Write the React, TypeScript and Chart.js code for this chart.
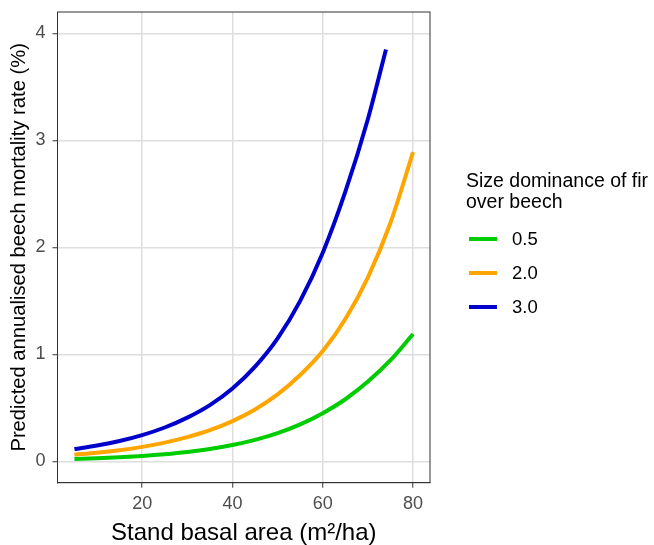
import React, { useEffect, useRef } from "react";
import { Chart, registerables } from "chart.js";

Chart.register(...registerables);

// ---- data ----
const basalArea = [5, 10, 15, 20, 25, 30, 35, 40, 45, 50, 55, 60, 65, 70, 75, 80];
const basalAreaHigh = [5, 10, 15, 20, 25, 30, 35, 40, 45, 50, 55, 60, 65, 70, 74];
const mortality05 = [0.022, 0.029, 0.038, 0.05, 0.066, 0.087, 0.115, 0.152, 0.2, 0.263, 0.345, 0.45, 0.58, 0.745, 0.945, 1.19];
const mortality20 = [0.062, 0.08, 0.104, 0.135, 0.175, 0.226, 0.291, 0.376, 0.485, 0.626, 0.807, 1.03, 1.33, 1.72, 2.23, 2.89];
const mortality30 = [0.115, 0.147, 0.19, 0.245, 0.316, 0.408, 0.525, 0.68, 0.885, 1.15, 1.5, 1.95, 2.52, 3.2, 3.85];
const seriesLabels = ["0.5", "2.0", "3.0"];
const seriesColors = ["#00CD00", "#FFA500", "#0000CD"];
const xTicks = [20, 40, 60, 80];
const yTicks = [0, 1, 2, 3, 4];
const legendTitle = ["Size dominance of fir", "over beech"];
const xTitle = "Stand basal area (m\u00B2/ha)";
const yTitle = "Predicted annualised beech mortality rate (%)";

const FONT = "'Liberation Sans', Arial, Helvetica, sans-serif";

const toPoints = (xs: number[], ys: number[]) => xs.map((x, i) => ({ x, y: ys[i] }));

const borderPlugin = {
  id: "panelBorder",
  afterDatasetsDraw(chart: any) {
    const { ctx, chartArea } = chart;
    ctx.save();
    ctx.strokeStyle = "#333333";
    ctx.lineWidth = 1;
    ctx.strokeRect(chartArea.left, chartArea.top, chartArea.right - chartArea.left, chartArea.bottom - chartArea.top);
    ctx.restore();
  },
};

const legendPlugin = {
  id: "customLegend",
  afterDraw(chart: any) {
    const { ctx } = chart;
    ctx.save();
    ctx.fillStyle = "#000000";
    ctx.textAlign = "left";
    ctx.textBaseline = "alphabetic";
    ctx.font = `19.5px ${FONT}`;
    ctx.fillText(legendTitle[0], 466, 187);
    ctx.fillText(legendTitle[1], 466, 208);
    const ys = [239, 273, 307];
    chart.data.datasets.forEach((ds: any, i: number) => {
      ctx.strokeStyle = ds.borderColor;
      ctx.lineWidth = 4;
      ctx.lineCap = "butt";
      ctx.beginPath();
      ctx.moveTo(469, ys[i]);
      ctx.lineTo(497, ys[i]);
      ctx.stroke();
      ctx.fillStyle = "#000000";
      ctx.textBaseline = "middle";
      ctx.font = `18.5px ${FONT}`;
      ctx.fillText(ds.label, 512, ys[i] + 1);
    });
    ctx.restore();
  },
};

export default function App() {
  const canvasRef = useRef<HTMLCanvasElement | null>(null);

  useEffect(() => {
    if (!canvasRef.current) return;
    const chart = new Chart(canvasRef.current, {
      type: "line",
      data: {
        datasets: [
          { label: seriesLabels[0], data: toPoints(basalArea, mortality05), borderColor: seriesColors[0] },
          { label: seriesLabels[1], data: toPoints(basalArea, mortality20), borderColor: seriesColors[1] },
          { label: seriesLabels[2], data: toPoints(basalAreaHigh, mortality30), borderColor: seriesColors[2] },
        ].map((d) => ({
          ...d,
          borderWidth: 4,
          pointRadius: 0,
          fill: false,
          cubicInterpolationMode: "monotone" as const,
          backgroundColor: d.borderColor,
        })),
      },
      options: {
        responsive: false,
        animation: false,
        layout: { padding: { left: 0, top: 12, right: 224, bottom: 0 } },
        plugins: { legend: { display: false }, tooltip: { enabled: false } },
        scales: {
          x: {
            type: "linear",
            min: 1.25,
            max: 83.75,
            afterBuildTicks: (s: any) => {
              s.ticks = xTicks.map((v) => ({ value: v }));
            },
            afterFit: (s: any) => {
              s.height = 62.3;
              s.paddingLeft = 0;
              s.paddingRight = 0;
            },
            grid: { color: "#dedede", lineWidth: 1.5, tickColor: "#333333", tickLength: 5, tickWidth: 1 },
            border: { display: true, color: "#333333", width: 1 },
            ticks: { color: "#4d4d4d", font: { size: 18, family: FONT }, padding: 6, maxRotation: 0 },
            title: {
              display: true,
              text: xTitle,
              color: "#000000",
              font: { size: 24, family: FONT, lineHeight: 1 },
              padding: { top: 0, bottom: 0 },
            },
          },
          y: {
            type: "linear",
            min: -0.2,
            max: 4.2,
            afterBuildTicks: (s: any) => {
              s.ticks = yTicks.map((v) => ({ value: v }));
            },
            afterFit: (s: any) => {
              s.width = 57.5;
              s.paddingTop = 0;
              s.paddingBottom = 0;
            },
            grid: { color: "#dedede", lineWidth: 1.5, tickColor: "#333333", tickLength: 5, tickWidth: 1 },
            border: { display: true, color: "#333333", width: 1 },
            ticks: { color: "#4d4d4d", font: { size: 18, family: FONT }, padding: 7 },
            title: {
              display: true,
              text: yTitle,
              color: "#000000",
              font: { size: 20.2, family: FONT, lineHeight: 1 },
              padding: { top: 9, bottom: 0 },
            },
          },
        },
      },
      plugins: [borderPlugin, legendPlugin],
    });
    return () => chart.destroy();
  }, []);

  return (
    <div style={{ position: "fixed", left: 0, top: 0, width: 654, height: 545, background: "#ffffff" }}>
      <canvas ref={canvasRef} width={654} height={545} />
    </div>
  );
}
